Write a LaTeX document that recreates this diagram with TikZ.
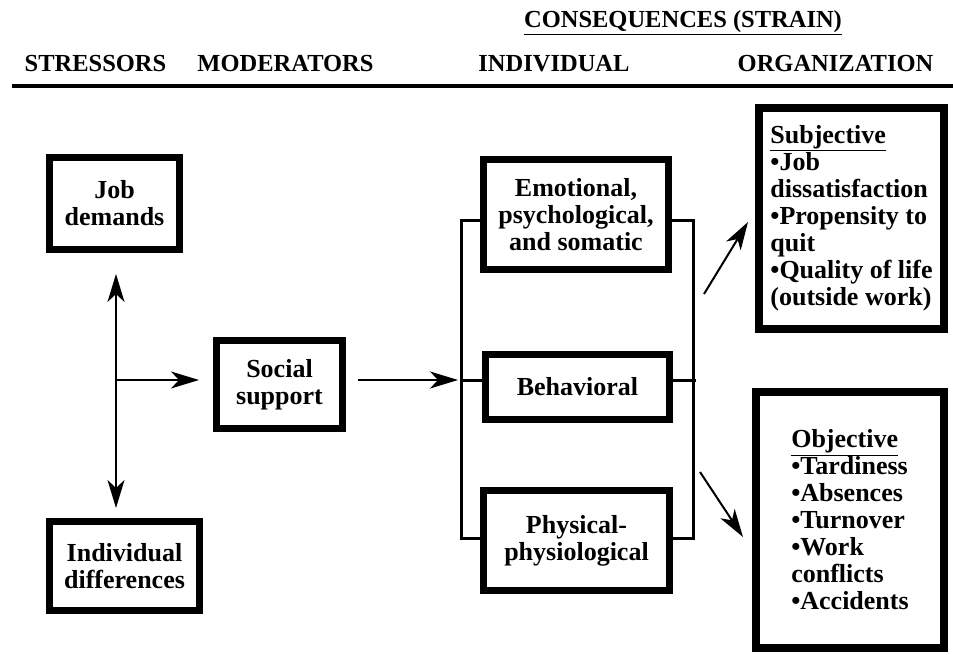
\documentclass[tikz,border=0pt]{standalone}
\usepackage{fontspec}
\setmainfont{Liberation Serif}
\usetikzlibrary{arrows.meta, calc, positioning}

\begin{document}
\begin{tikzpicture}[x=1pt, y=-1pt,
	box/.style={draw, line width=7pt, inner sep=0pt, align=center,
		font=\fontsize{26}{27}\selectfont\bfseries},
	listbox/.style={draw, line width=8pt, inner sep=0pt, align=left,
		font=\fontsize{26}{27}\selectfont\bfseries},
	head/.style={anchor=base, inner sep=0pt, font=\fontsize{24.5}{27}\selectfont\bfseries},
	arr/.style={line width=2pt, -{Stealth[length=28pt, width=17pt, inset=8pt]}},
	bracket/.style={line width=3pt}]
	\useasboundingbox (0,0) rectangle (953,655);
	% column headings
	\node[head] (conseq) at (683,28) {\underline{CONSEQUENCES (STRAIN)}};
	\node[head] (stress) at (95.5,72) {STRESSORS};
	\node[head] (moder) at (285.5,72) {MODERATORS};
	\node[head] (indiv) at (554,72) {INDIVIDUAL};
	\node[head] (organ) at (835.5,72) {ORGANIZATION};
	\draw[line width=4.5pt] (12,86) -- (953,86);
	% stressors and moderator
	\node[box, minimum width=130, minimum height=92] (jobdem) at (114.5,203.5) {Job\\demands};
	\node[box, minimum width=150, minimum height=89] (inddiff) at (124.5,566) {Individual\\differences};
	\node[box, minimum width=126, minimum height=88] (social) at (279.5,384.5) {Social\\support};
	% individual consequences
	\node[box, minimum width=185, minimum height=110] (emot) at (576,214.5) {Emotional,\\psychological,\\and somatic};
	\node[box, minimum width=184, minimum height=65] (behav) at (577.5,387) {Behavioral};
	\node[box, minimum width=186, minimum height=100] (phys) at (576.5,540.5) {Physical-\\physiological};
	% organizational consequences
	\node[listbox, minimum width=185, minimum height=221] (subj) at (851.5,218.5)
		{\underline{Subjective}\\•Job\\dissatisfaction\\•Propensity to\\quit\\•Quality of life\\(outside work)};
	\node[listbox, minimum width=188, minimum height=256] (obj) at (850,520)
		{\underline{Objective}\\•Tardiness\\•Absences\\•Turnover\\•Work\\conflicts\\•Accidents};
	% connectors
	\coordinate (fork) at (116,380);
	\coordinate (up) at (116,274);
	\coordinate (down) at (116,508);
	\draw[arr] (fork) -- (up);
	\draw[arr] (fork) -- (down);
	\draw[arr, shorten >=14pt] (fork) -- (fork -| social.west);
	\coordinate (ltop) at (461,221);
	\coordinate (lmid) at (461,380);
	\coordinate (lbot) at (461,538);
	\coordinate (rtop) at (693,221);
	\coordinate (rmid) at (696,380);
	\coordinate (rbot) at (693,538);
	\draw[arr, shorten <=12pt, shorten >=3pt] (social.east |- lmid) -- (lmid);
	\draw[bracket] (emot.west |- ltop) -- (ltop) -- (lbot) -- (phys.west |- lbot);
	\draw[bracket] (lmid) -- (behav.west |- lmid);
	\draw[bracket] (emot.east |- rtop) -- (rtop) -- (rbot) -- (phys.east |- rbot);
	\draw[bracket] (behav.east |- rmid) -- (rmid);
	\coordinate (subjfrom) at (704,294);
	\coordinate (subjto) at (748,222);
	\coordinate (objfrom) at (700,472);
	\coordinate (objto) at (743,537);
	\draw[arr] (subjfrom) -- (subjto);
	\draw[arr] (objfrom) -- (objto);
\end{tikzpicture}
\end{document}
